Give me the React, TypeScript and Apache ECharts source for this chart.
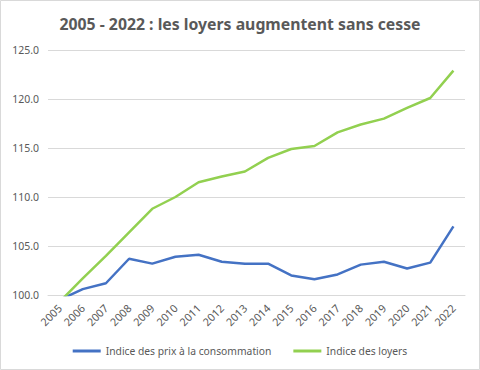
import React, { useEffect, useRef } from "react";
import * as echarts from "echarts";

const years = ["2005","2006","2007","2008","2009","2010","2011","2012","2013","2014","2015","2016","2017","2018","2019","2020","2021","2022"];
const cpi = [99.5, 100.6, 101.2, 103.7, 103.2, 103.9, 104.1, 103.4, 103.2, 103.2, 102.0, 101.6, 102.1, 103.1, 103.4, 102.7, 103.3, 107.0];
const rents = [99.3, 101.7, 104.0, 106.4, 108.8, 110.0, 111.5, 112.1, 112.6, 114.0, 114.9, 115.2, 116.6, 117.4, 118.0, 119.1, 120.1, 122.9];
const seriesNames = ["Indice des prix à la consommation", "Indice des loyers"];
const titleText = "2005 - 2022 : les loyers augmentent sans cesse";

const FONT = "Noto Sans";
const GREY = "#595959";

export default function App() {
  const ref = useRef<HTMLDivElement>(null);
  useEffect(() => {
    if (!ref.current) return;
    const chart = echarts.init(ref.current, undefined, { renderer: "svg" });
    chart.setOption({
      animation: false,
      backgroundColor: "#ffffff",
      textStyle: { fontFamily: FONT },
      title: {
        text: titleText,
        left: "center",
        top: 11,
        textStyle: { fontFamily: FONT, fontSize: 15.8, fontWeight: "bold", color: GREY },
      },
      graphic: [
        {
          type: "rect",
          shape: { x: 0.5, y: 0.5, width: 479, height: 369 },
          style: { fill: "none", stroke: "#d9d9d9", lineWidth: 1 },
          silent: true,
        },
      ],
      legend: {
        data: seriesNames,
        top: 341,
        left: "center",
        itemWidth: 28,
        itemHeight: 3,
        itemGap: 22,
        icon: "rect",
        textStyle: { fontFamily: FONT, fontSize: 10.3, color: GREY },
      },
      grid: { left: 48, right: 15, top: 50, bottom: 75, containLabel: false },
      xAxis: {
        type: "category",
        data: years,
        boundaryGap: true,
        axisLine: { show: true, lineStyle: { color: "#d9d9d9" } },
        axisTick: { show: false },
        axisLabel: { rotate: 45, interval: 0, fontFamily: FONT, fontSize: 10.8, color: GREY, margin: 11 },
      },
      yAxis: {
        type: "value",
        min: 100,
        max: 125,
        interval: 5,
        axisLine: { show: false },
        axisTick: { show: false },
        splitLine: { lineStyle: { color: "#d9d9d9", width: 1 } },
        axisLabel: {
          fontFamily: FONT,
          fontSize: 10.5,
          color: GREY,
          margin: 9,
          formatter: (v: number) => v.toFixed(1),
        },
      },
      series: [
        {
          name: seriesNames[0],
          type: "line",
          data: cpi,
          showSymbol: false,
          symbol: "none",
          clip: true,
          lineStyle: { color: "#4472C4", width: 2.5 },
          itemStyle: { color: "#4472C4" },
        },
        {
          name: seriesNames[1],
          type: "line",
          data: rents,
          showSymbol: false,
          symbol: "none",
          clip: true,
          lineStyle: { color: "#92D050", width: 2.5 },
          itemStyle: { color: "#92D050" },
        },
      ],
    });
    return () => chart.dispose();
  }, []);
  return (
    <div
      ref={ref}
      style={{ position: "fixed", left: 0, top: 0, width: 480, height: 370 }}
    />
  );
}
